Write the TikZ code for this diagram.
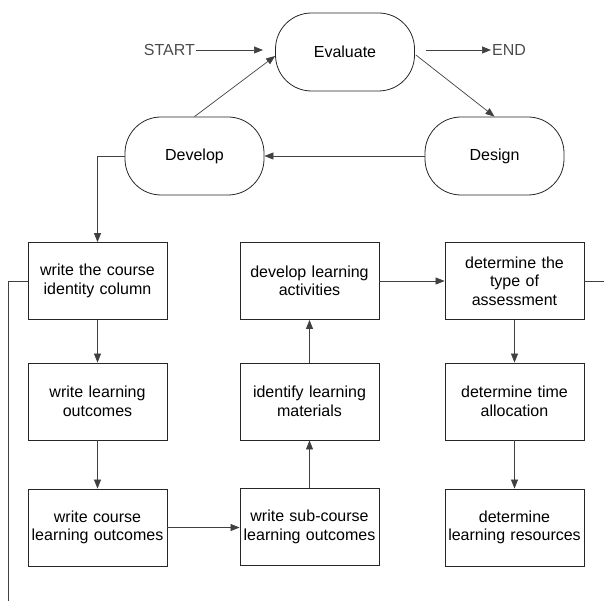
\documentclass[tikz,border=0pt]{standalone}
\usepackage{fontspec}
\setmainfont{Liberation Sans}
\usetikzlibrary{arrows.meta,calc}
\begin{document}
\begin{tikzpicture}[x=1pt,y=-1pt,
  line/.style={draw=black!75, line width=0.7pt},
  arr/.style={line, -{Triangle[length=9pt,width=7pt]}},
  phase/.style={draw=black!85, line width=0.8pt, rounded corners=36pt, minimum width=139pt, minimum height=78pt, inner sep=0pt, font=\fontsize{16}{18}\selectfont},
  stepbox/.style={draw=black!85, line width=0.8pt, minimum width=139pt, minimum height=77pt, inner sep=2pt, align=center, text width=135pt, font=\fontsize{16}{18.5}\selectfont},
  term/.style={inner sep=1pt, text=black!70, font=\fontsize{16}{18}\selectfont},
]
\useasboundingbox (0,0) rectangle (604,601);
\node[phase] (eval) at (345,52) {Evaluate};
\node[phase] (dev) at (194.5,156) {Develop};
\node[phase] (des) at (494.5,156) {Design};
\node[term, anchor=east] (start) at (196,50) {START};
\coordinate (startend) at (263,50);
\coordinate (endstart) at (426,50);
\node[term, anchor=west] (endt) at (491,50) {END};
\draw[arr] (start.east) -- (startend);
\draw[arr] (endstart) -- (endt.west);
\draw[arr] (des.west) -- (dev.east);
\draw[arr] (dev.north) -- ($(eval.west)+(0,4)$);
\draw[arr] ($(eval.east)+(1,3)$) -- (des.north);

\node[stepbox] (a1) at (97.5,281) {write the course\\identity column};
\node[stepbox] (a2) at (97.5,401.5) {write learning\\outcomes};
\node[stepbox] (a3) at (97.5,527.5) {write course\\learning outcomes};
\node[stepbox] (b3) at (309.5,527) {write sub-course\\learning outcomes};
\node[stepbox] (b2) at (309.5,401.5) {identify learning\\materials};
\node[stepbox] (b1) at (309.5,281) {develop learning\\activities};
\node[stepbox] (c1) at (514.5,281) {determine the\\type of\\assessment};
\node[stepbox] (c2) at (514.5,401.5) {determine time\\allocation};
\node[stepbox] (c3) at (514.5,527.5) {determine\\learning resources};

\coordinate (rightout) at (604,281);
\coordinate (leftcorner) at (8,281);
\coordinate (leftout) at (8,601);

\draw[arr] (dev.west) -| (a1.north);
\draw[arr] (a1) -- (a2);
\draw[arr] (a2) -- (a3);
\draw[arr] (a3.east) -- (a3.east -| b3.west);
\draw[arr] (b3) -- (b2);
\draw[arr] (b2) -- (b1);
\draw[arr] (b1.east) -- (c1.west);
\draw[arr] (c1) -- (c2);
\draw[arr] (c2) -- (c3);
\draw[line] (c1.east) -- (rightout);
\draw[line] (a1.west) -- (leftcorner) -- (leftout);
\end{tikzpicture}
\end{document}
